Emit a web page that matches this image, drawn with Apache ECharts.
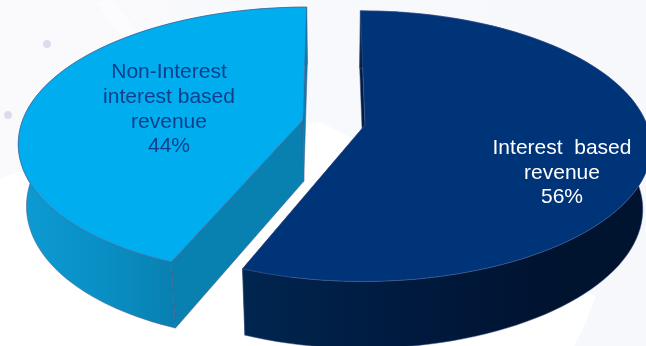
<!DOCTYPE html>
<html>
<head>
<meta charset="utf-8">
<style>
  html, body { margin: 0; padding: 0; background: #ffffff; }
  #chart { width: 646px; height: 346px; }
</style>
<script src="https://cdn.jsdelivr.net/npm/echarts@6/dist/echarts.min.js"></script>
</head>
<body>
<div id="chart"></div>
<script>
// Revenue split
const categories = ['Interest  based\nrevenue', 'Non-Interest\ninterest based\nrevenue'];
const values = [56, 44];

// Pie plane → screen projection
const VIEW = { x0: 333.5, y0: 124, a: 281.6, b: 131.7, k: 0.1556, skew: 8 };
const START_DEG = -0.1;              // clockwise from straight up
const EXTRUDE = { sx: 0.974, vx: 333, sy: 1.035, dy: 57 };

const SLICE_STYLE = [
  { offset: [0.112, 0.008], top: '#003478', cut: '#001a40',
    wall: ['#00264f', '#001a3f', '#00132f'], wallRange: [245, 560], text: '#ffffff', label: [562, 173] },
  { offset: [-0.109, -0.03], top: '#00aeef', cut: '#0880b0',
    wall: ['#0c9ad2', '#0a8fc4', '#0880b0'], wallRange: [28, 176], text: '#0b3f8c', label: [169, 109.5] }
];
const EDGE = 'rgba(70,90,140,0.75)';

function project(u, v) {
  const d = 1 - VIEW.k * v;
  const near = Math.max(v, 0);
  return [VIEW.x0 + VIEW.a * u / d - VIEW.skew * near * near, VIEW.y0 + VIEW.b * v / d];
}
function lower(p) {
  return [EXTRUDE.vx + (p[0] - EXTRUDE.vx) * EXTRUDE.sx, p[1] * EXTRUDE.sy + EXTRUDE.dy];
}
function planePoint(off, deg, r) {
  const t = deg * Math.PI / 180;
  return project(off[0] + r * Math.sin(t), off[1] - r * Math.cos(t));
}

const total = values.reduce((s, v) => s + v, 0);

function renderSlice(params, api) {
  const i = params.dataIndex;
  const st = SLICE_STYLE[i];
  let from = START_DEG;
  for (let j = 0; j < i; j++) from += values[j] / total * 360;
  const sweep = api.value(0) / total * 360;
  const arc = [];
  const n = 96;
  for (let s = 0; s <= n; s++) arc.push(planePoint(st.offset, from + sweep * s / n, 1));
  const apex = project(st.offset[0], st.offset[1]);
  const arcLow = arc.map(lower);
  const apexLow = lower(apex);
  const first = arc[0], last = arc[n];
  const wallFill = new echarts.graphic.LinearGradient(st.wallRange[0], 0, st.wallRange[1], 0,
    st.wall.map((c, k) => ({ offset: k / (st.wall.length - 1), color: c })), true);
  const face = (points, fill) => ({
    type: 'polygon', shape: { points },
    style: { fill, stroke: EDGE, lineWidth: 0.7 }
  });
  return {
    type: 'group',
    children: [
      face([first, apex, apexLow, arcLow[0]], st.cut),
      face([last, apex, apexLow, arcLow[n]], st.cut),
      face(arc.concat(arcLow.slice().reverse()), wallFill),
      face([apex].concat(arc), st.top),
      {
        type: 'text',
        style: {
          x: st.label[0], y: st.label[1],
          text: categories[i] + '\n' + Math.round(api.value(0) / total * 100) + '%',
          fill: st.text, align: 'center', verticalAlign: 'middle',
          font: '21px "Liberation Sans", Arial, sans-serif', lineHeight: 24.6
        }
      }
    ]
  };
}

const chart = echarts.init(document.getElementById('chart'), null, { renderer: 'canvas' });
chart.setOption({
  animation: false,
  backgroundColor: '#ffffff',
  graphic: [
    {
      type: 'rect', z: -10, shape: { x: 0, y: 0, width: 646, height: 346 },
      style: {
        fill: new echarts.graphic.LinearGradient(0, 0, 646, 0,
          [{ offset: 0, color: '#fafafd' }, { offset: 1, color: '#f6f8fb' }], true)
      }
    },
    {
      type: 'polygon', z: -9,
      shape: { points: [[0, 178], [20, 172], [60, 178], [140, 200], [305, 124], [320, 122], [352, 138], [500, 260], [596, 296], [586, 322], [574, 346], [0, 346]] },
      style: { fill: '#ffffff' }
    },
    { type: 'polygon', z: -9, shape: { points: [[96, 2], [112, 0], [128, 18], [138, 36], [122, 40], [108, 20]] }, style: { fill: '#fcfcfe' } },
    { type: 'circle', z: -8, shape: { cx: 47, cy: 44, r: 4 }, style: { fill: '#dcdcec' } },
    { type: 'circle', z: -8, shape: { cx: 8, cy: 115, r: 4 }, style: { fill: '#dcdcec' } }
  ],
  series: [{
    type: 'custom',
    coordinateSystem: 'none',
    silent: true,
    data: values.map(v => [v]),
    renderItem: renderSlice
  }]
});
</script>
</body>
</html>
